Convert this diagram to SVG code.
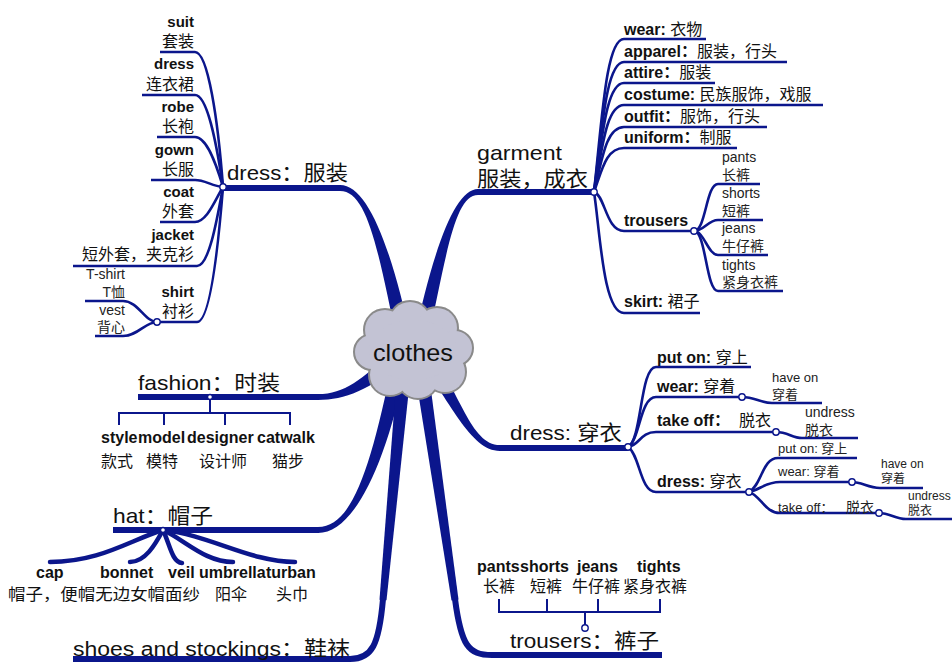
<svg xmlns="http://www.w3.org/2000/svg" width="952" height="663" viewBox="0 0 952 663">
<style>
.m{fill:#0b168c}
.mh{fill:none;stroke:#0b168c;stroke-width:6}
.s{fill:none;stroke:#0b168c;stroke-width:2.6}
.t{fill:none;stroke:#0b168c;stroke-width:4.5;stroke-linecap:round}
.k{fill:none;stroke:#0b168c;stroke-width:2}
.h{fill:#fff;stroke:#0b168c;stroke-width:1.4}
text{font-family:"Liberation Sans","Noto Sans CJK SC",sans-serif;fill:#111}
.big{font-size:21px}
.b{font-weight:bold;font-size:16px}
.b15{font-weight:bold;font-size:15px}
.zh{font-weight:normal;font-size:16px}
.n14{font-size:14px;fill:#222}
.n13{font-size:13px;fill:#222}
.n12{font-size:12px;fill:#222}
.cs{fill:#c3c3d4;stroke:#8a8a8a;stroke-width:4}
.cf{fill:#c3c3d4}
</style>
<rect width="952" height="663" fill="#fff"/>
<g id="connectors">
  <!-- dress 服装 main -->
  <path class="mh" d="M223,188 H341"/>
  <path class="m" d="M340,185 C368,185 391.9,248.6 411.9,343.6 L398.2,346.4 C378.2,251.4 368,191 340,191 Z"/>
  <!-- garment main -->
  <path class="mh" d="M594,192 H477"/>
  <path class="m" d="M478,189 C455,189 433.2,248.6 413.2,343.6 L426.9,346.4 C446.9,251.4 455,195 478,195 Z"/>
  <!-- fashion main -->
  <path class="mh" d="M138,397 H319"/>
  <path class="m" d="M318,394 C345,394 360.4,379.7 395.4,349.7 L404.6,360.3 C369.6,390.3 345,400 318,400 Z"/>
  <!-- hat main -->
  <path class="mh" d="M113,530 H319"/>
  <path class="m" d="M318,527 C352,527 371.1,468.6 393.1,358.6 L406.9,361.4 C384.9,471.4 352,533 318,533 Z"/>
  <!-- shoes main -->
  <path class="m" d="M411.97,360.64 L386.5,600.3 L379.5,599.7 L398.03,359.36 Z"/>
  <path class="mh" d="M383,599 C379,645 372,659 350,659 H73"/>
  <!-- trousers main -->
  <path class="m" d="M426.9,359 L458.5,599.5 L451.5,600.5 L413.1,361 Z"/>
  <path class="mh" d="M455,599 C461,645 468,655 492,655 H662"/>
  <!-- dress 穿衣 main -->
  <path class="mh" d="M628,448 H499"/>
  <path class="m" d="M500,445 C470,445 460.5,390.7 425.5,345.7 L414.5,354.3 C449.5,399.3 470,451 500,451 Z"/>

  <!-- dress 服装 leaves -->
  <path class="s" d="M160,52 H195 C208,52 218,120 223,187"/>
  <path class="s" d="M142,95 H195 C207,95 216,140 223,187"/>
  <path class="s" d="M157,137 H195 C206,137 215,160 223,187"/>
  <path class="s" d="M151,180 H195 C205,180 212,186 223,187"/>
  <path class="s" d="M160,222 H195 C207,222 215,200 223,187"/>
  <path class="s" d="M73,266 H197 C209,266 217,220 223,187"/>
  <path class="s" d="M157,322 H197 C210,322 218,250 223,187"/>
  <path class="s" d="M85,301 H123 C138,301 145,322 157,322"/>
  <path class="s" d="M95,336 H123 C138,336 145,322 157,322"/>

  <!-- garment leaves -->
  <path class="s" d="M594,192 C602,120 606,39 624,39 H706"/>
  <path class="s" d="M594,192 C602,130 606,62 624,62 H787"/>
  <path class="s" d="M594,192 C602,140 606,83 624,83 H715"/>
  <path class="s" d="M594,192 C602,150 606,105 624,105 H823"/>
  <path class="s" d="M594,192 C602,160 606,127 624,127 H767"/>
  <path class="s" d="M594,192 C602,170 606,148 624,148 H737"/>
  <path class="s" d="M594,192 C605,195 606,231 624,231 H694"/>
  <path class="s" d="M594,192 C600,230 603,313 624,313 H700"/>
  <path class="s" d="M694,231 C706,231 706,184 718,184 H760"/>
  <path class="s" d="M694,231 C704,231 708,220 718,220 H763"/>
  <path class="s" d="M694,231 C704,231 708,255 718,255 H768"/>
  <path class="s" d="M694,231 C706,231 706,291 718,291 H783"/>

  <!-- dress 穿衣 leaves -->
  <path class="s" d="M628,447 C642,440 640,367 656,367 H751"/>
  <path class="s" d="M628,447 C640,440 640,397 656,397 H742"/>
  <path class="s" d="M742,397 C755,397 760,403 772,403 H822"/>
  <path class="s" d="M628,447 C640,445 640,432 656,432 H776"/>
  <path class="s" d="M776,432 C788,432 792,438 802,438 H858"/>
  <path class="s" d="M628,447 C640,455 640,492 656,492 H749"/>
  <path class="s" d="M749,492 C762,485 762,458 778,458 H857"/>
  <path class="s" d="M749,492 C760,490 765,482 780,482 H852"/>
  <path class="s" d="M852,482 C862,482 868,488 880,488 H923"/>
  <path class="s" d="M749,492 C760,495 765,513 780,513 H879"/>
  <path class="s" d="M879,513 C890,513 895,519 906,519 H952"/>

  <!-- fashion bracket -->
  <path class="k" d="M210,397 V413 M119,425 V413 H290 V425 M164,413 V425 M225,413 V425"/>
  <!-- hat leaves -->
  <path class="t" d="M163,530 C130,540 100,562 50,562"/>
  <path class="t" d="M163,530 C155,545 145,562 130,562"/>
  <path class="t" d="M163,530 C170,545 172,562 182,563"/>
  <path class="t" d="M163,530 C185,540 205,562 233,562"/>
  <path class="t" d="M163,530 C210,535 250,562 295,562"/>
  <!-- trousers bracket -->
  <path class="k" d="M585,626 V612 M499,599 V612 H660 V599 M547,612 V599 M598,612 V599"/>

  <!-- hubs -->
  <circle class="h" cx="223" cy="187" r="3.2"/>
  <circle class="h" cx="157" cy="322" r="3.2"/>
  <circle class="h" cx="594" cy="192" r="3.2"/>
  <circle class="h" cx="694" cy="231" r="3.2"/>
  <circle class="h" cx="628" cy="447" r="3.2"/>
  <circle class="h" cx="742" cy="397" r="3.2"/>
  <circle class="h" cx="776" cy="432" r="3.2"/>
  <circle class="h" cx="749" cy="492" r="3.2"/>
  <circle class="h" cx="852" cy="482" r="3.2"/>
  <circle class="h" cx="879" cy="513" r="3.2"/>
  <circle class="h" cx="210" cy="397" r="2.5"/>
  <circle class="h" cx="163" cy="530" r="2.5"/>
  <circle class="h" cx="585" cy="628" r="3.2"/>
</g>

<g id="clothes">
  <g class="cs">
    <circle cx="385" cy="330" r="20"/><circle cx="410" cy="322" r="20"/><circle cx="437" cy="328" r="20"/>
    <circle cx="455" cy="348" r="17"/><circle cx="445" cy="372" r="20"/><circle cx="418" cy="378" r="20"/>
    <circle cx="390" cy="375" r="20"/><circle cx="372" cy="352" r="17"/>
  </g>
  <g class="cf">
    <circle cx="385" cy="330" r="20"/><circle cx="410" cy="322" r="20"/><circle cx="437" cy="328" r="20"/>
    <circle cx="455" cy="348" r="17"/><circle cx="445" cy="372" r="20"/><circle cx="418" cy="378" r="20"/>
    <circle cx="390" cy="375" r="20"/><circle cx="372" cy="352" r="17"/>
    <ellipse cx="413" cy="350" rx="44" ry="30"/>
  </g>
  <text x="413" y="361" text-anchor="middle" font-size="24" textLength="80" lengthAdjust="spacingAndGlyphs">clothes</text>
</g>

<g id="dress-fuzhuang">
  <text class="big" x="227" y="180" textLength="121" lengthAdjust="spacingAndGlyphs">dress：服装</text>
  <g text-anchor="end">
    <text class="b15" x="194" y="27">suit</text><text class="zh" x="194" y="47" font-size="16.5">套装</text>
    <text class="b15" x="194" y="69">dress</text><text class="zh" x="194" y="90" font-size="16.5">连衣裙</text>
    <text class="b15" x="194" y="112">robe</text><text class="zh" x="194" y="132" font-size="16.5">长袍</text>
    <text class="b15" x="194" y="155">gown</text><text class="zh" x="194" y="175" font-size="16.5">长服</text>
    <text class="b15" x="194" y="197">coat</text><text class="zh" x="194" y="217" font-size="16.5">外套</text>
    <text class="b15" x="194" y="240">jacket</text><text class="zh" x="194" y="260" font-size="16.5">短外套，夹克衫</text>
    <text class="b15" x="194" y="297">shirt</text><text class="zh" x="194" y="317" font-size="16.5">衬衫</text>
    <text class="n14" x="125" y="279">T-shirt</text><text class="n14" x="125" y="297" font-size="15">T恤</text>
    <text class="n14" x="125" y="315">vest</text><text class="n14" x="125" y="332" font-size="15">背心</text>
  </g>
</g>

<g id="garment">
  <text class="big" x="477" y="160" textLength="85" lengthAdjust="spacingAndGlyphs">garment</text>
  <text class="big" x="477" y="186" textLength="111" lengthAdjust="spacingAndGlyphs">服装，成衣</text>
  <text class="b" x="624" y="35">wear: <tspan class="zh">衣物</tspan></text>
  <text class="b" x="624" y="57">apparel：<tspan class="zh">服装，行头</tspan></text>
  <text class="b" x="624" y="78">attire：<tspan class="zh">服装</tspan></text>
  <text class="b" x="624" y="100">costume: <tspan class="zh">民族服饰，戏服</tspan></text>
  <text class="b" x="624" y="122">outfit：<tspan class="zh">服饰，行头</tspan></text>
  <text class="b" x="624" y="143">uniform：<tspan class="zh">制服</tspan></text>
  <text class="b" x="624" y="226">trousers</text>
  <text class="b" x="624" y="307">skirt: <tspan class="zh">裙子</tspan></text>
  <text class="n14" x="722" y="162">pants</text><text class="n14" x="722" y="180" font-size="15">长裤</text>
  <text class="n14" x="722" y="198">shorts</text><text class="n14" x="722" y="216" font-size="15">短裤</text>
  <text class="n14" x="722" y="233">jeans</text><text class="n14" x="722" y="251" font-size="15">牛仔裤</text>
  <text class="n14" x="722" y="270">tights</text><text class="n14" x="722" y="287" font-size="15">紧身衣裤</text>
</g>

<g id="dress-chuanyi">
  <text class="big" x="510" y="440" textLength="112" lengthAdjust="spacingAndGlyphs">dress: 穿衣</text>
  <text class="b" x="657" y="363">put on: <tspan class="zh">穿上</tspan></text>
  <text class="b" x="657" y="392">wear: <tspan class="zh">穿着</tspan></text>
  <text class="b" x="657" y="426">take off：<tspan class="zh" x="739">脱衣</tspan></text>
  <text class="b" x="657" y="487">dress: <tspan class="zh">穿衣</tspan></text>
  <text class="n13" x="772" y="382">have on</text><text class="n13" x="772" y="399" font-size="14">穿着</text>
  <text class="n14" x="805" y="417">undress</text><text class="n14" x="805" y="435">脱衣</text>
  <text class="n13" x="778" y="453">put on: 穿上</text>
  <text class="n13" x="778" y="476">wear: 穿着</text>
  <text class="n13" x="778" y="512">take off：<tspan x="846" font-size="14">脱衣</tspan></text>
  <text class="n12" x="881" y="468">have on</text><text class="n12" x="881" y="483">穿着</text>
  <text class="n12" x="908" y="500">undress</text><text class="n12" x="908" y="515">脱衣</text>
</g>

<g id="fashion">
  <text class="big" x="138" y="390" textLength="142" lengthAdjust="spacingAndGlyphs">fashion：时装</text>
  <text class="b" x="101" y="443">style</text>
  <text class="b" x="138" y="443">model</text>
  <text class="b" x="187" y="443">designer</text>
  <text class="b" x="257" y="443">catwalk</text>
  <text class="zh" x="101" y="467">款式</text>
  <text class="zh" x="146" y="467">模特</text>
  <text class="zh" x="199" y="467">设计师</text>
  <text class="zh" x="272" y="467">猫步</text>
</g>

<g id="hat">
  <text class="big" x="113" y="523" textLength="100" lengthAdjust="spacingAndGlyphs">hat：帽子</text>
  <text class="b" x="36" y="578">cap</text>
  <text class="b" x="100" y="578">bonnet</text>
  <text class="b" x="168" y="578">veil</text>
  <text class="b" x="199" y="578">umbrella</text>
  <text class="b" x="266" y="578">turban</text>
  <text class="zh" x="8" y="600" font-size="17" textLength="192" lengthAdjust="spacingAndGlyphs">帽子，便帽无边女帽面纱</text>
  <text class="zh" x="215" y="600" font-size="17">阳伞</text>
  <text class="zh" x="276" y="600" font-size="17">头巾</text>
</g>

<g id="shoes">
  <text x="73" y="656" font-size="20" textLength="277" lengthAdjust="spacingAndGlyphs">shoes and stockings：鞋袜</text>
</g>

<g id="trousers">
  <text class="big" x="510" y="648" textLength="149" lengthAdjust="spacingAndGlyphs">trousers：裤子</text>
  <text class="b" x="477" y="572">pants</text>
  <text class="b" x="520" y="572">shorts</text>
  <text class="b" x="577" y="572">jeans</text>
  <text class="b" x="637" y="572">tights</text>
  <text class="zh" x="483" y="592" font-size="17">长裤</text>
  <text class="zh" x="530" y="592" font-size="17">短裤</text>
  <text class="zh" x="572" y="592" font-size="17">牛仔裤</text>
  <text class="zh" x="623" y="592" font-size="17">紧身衣裤</text>
</g>
</svg>
